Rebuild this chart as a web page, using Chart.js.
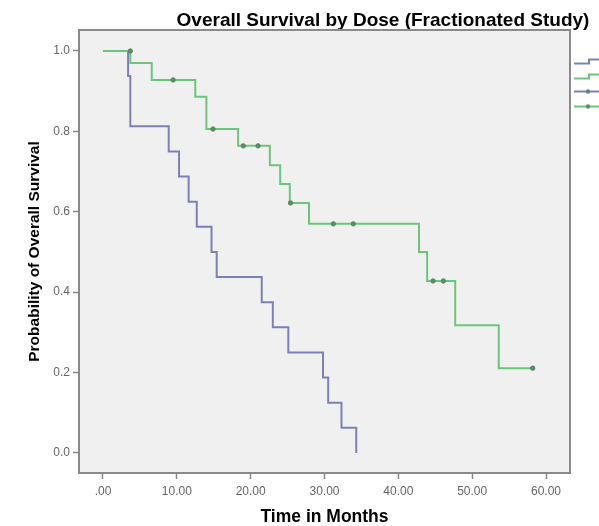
<!DOCTYPE html>
<html><head><meta charset="utf-8">
<script src="https://cdn.jsdelivr.net/npm/chart.js@4"></script>
<style>
html,body{margin:0;padding:0;overflow:hidden;background:#fff;width:599px;height:526px}
#wrap{position:absolute;left:0;top:0;width:766px;height:526px}
</style>
</head><body><div id="wrap"><canvas id="c" width="766" height="526"></canvas></div>
<script>
const titleText = "Overall Survival by Dose (Fractionated Study)";
const xTitle = "Time in Months";
const yTitle = "Probability of Overall Survival";
const seriesNames = ["1", "2", "1-censored", "2-censored"];
const xTicks = [0, 10, 20, 30, 40, 50, 60];
const yTicks = [0, 0.2, 0.4, 0.6, 0.8, 1.0];

// group 1 (blue) – event times and survival after each event
const blueTimes = [0, 3.4, 3.7, 8.9, 10.3, 11.6, 12.7, 14.7, 15.4, 21.5, 23.0, 25.1, 29.8, 30.5, 32.3, 34.3];
const blueSurv  = [1, 0.9375, 0.8125, 0.75, 0.6875, 0.625, 0.5625, 0.5, 0.4375, 0.375, 0.3125, 0.25, 0.1875, 0.125, 0.0625, 0];
// group 2 (green)
const greenTimes = [0, 3.7, 6.6, 12.5, 14.0, 18.3, 22.6, 24.0, 25.3, 27.9, 42.8, 43.9, 47.7, 53.6, 58.2];
const greenSurv  = [1, 0.97, 0.928, 0.886, 0.806, 0.764, 0.716, 0.669, 0.622, 0.570, 0.50, 0.428, 0.318, 0.211, 0.211];
// censored observations
const blueCensorTimes = [];
const blueCensorSurv  = [];
const greenCensorTimes = [3.7, 9.5, 14.9, 19.0, 21.0, 25.4, 31.2, 33.9, 44.7, 46.1, 58.2];
const greenCensorSurv  = [1, 0.928, 0.806, 0.764, 0.764, 0.622, 0.570, 0.570, 0.428, 0.428, 0.211];

const BLUE = "rgb(124,128,184)";
const GREEN = "rgb(108,198,122)";
const CENS = "rgb(92,138,102)";

const pts = (xs, ys) => xs.map((x, i) => ({x: x, y: ys[i]}));

function legendIcon(color, withDot, step) {
  const cv = document.createElement("canvas");
  cv.width = 34; cv.height = 10;
  const g = cv.getContext("2d");
  g.strokeStyle = color; g.lineWidth = 2;
  g.beginPath();
  if (step) { g.moveTo(0, 7); g.lineTo(15, 7); g.lineTo(15, 3); g.lineTo(34, 3); }
  else { g.moveTo(0, 5); g.lineTo(34, 5); }
  g.stroke();
  if (withDot) { g.fillStyle = CENS; g.beginPath(); g.arc(14, 5, 2.2, 0, Math.PI * 2); g.fill(); }
  return cv;
}
const icons = [legendIcon(BLUE, false, true), legendIcon(GREEN, false, true), legendIcon(BLUE, true, false), legendIcon(GREEN, true, false)];

const framePlugin = {
  id: "frame",
  afterLayout(chart) {
    // centre the main title across the whole (legend-inclusive) canvas, as SPSS does
    const t = chart.titleBlock;
    if (t) { t.left = 0; t.right = chart.width; t.width = chart.width; }
  },
  beforeDraw(chart) {
    const a = chart.chartArea, ctx = chart.ctx;
    ctx.save();
    ctx.fillStyle = "#f0f0f0";
    ctx.fillRect(a.left, a.top, a.right - a.left, a.bottom - a.top);
    ctx.restore();
  },
  afterDatasetsDraw(chart) {
    const a = chart.chartArea, ctx = chart.ctx;
    ctx.save();
    ctx.strokeStyle = "#8a8a8a"; ctx.lineWidth = 2;
    ctx.strokeRect(a.left, a.top, a.right - a.left, a.bottom - a.top);
    ctx.restore();
  }
};

const font = "'Liberation Sans', Arial, sans-serif";

const chart = new Chart(document.getElementById("c"), {
  type: "scatter",
  data: {
    datasets: [
      { label: seriesNames[0], data: pts(blueTimes, blueSurv), showLine: true, stepped: "before",
        borderColor: BLUE, backgroundColor: BLUE, borderWidth: 2, pointRadius: 0, order: 3 },
      { label: seriesNames[1], data: pts(greenTimes, greenSurv), showLine: true, stepped: "before",
        borderColor: GREEN, backgroundColor: GREEN, borderWidth: 2, pointRadius: 0, order: 2 },
      { label: seriesNames[2], data: pts(blueCensorTimes, blueCensorSurv), showLine: false,
        pointRadius: 2.2, pointBackgroundColor: CENS, pointBorderColor: CENS, order: 1 },
      { label: seriesNames[3], data: pts(greenCensorTimes, greenCensorSurv), showLine: false,
        pointRadius: 2.2, pointBackgroundColor: CENS, pointBorderColor: CENS, order: 0 }
    ]
  },
  options: {
    responsive: false,
    animation: false,
    layout: { padding: { left: 21, right: 10, top: 0, bottom: 0 } },
    plugins: {
      title: {
        display: true, text: titleText, color: "#000",
        font: { family: font, size: 19, weight: "bold", lineHeight: 1 },
        padding: { top: 11, bottom: 0 }
      },
      legend: {
        position: "right", align: "start",
        title: { display: true, text: " ", font: { size: 10, lineHeight: 1 }, padding: { top: 42, bottom: 0 } },
        labels: {
          usePointStyle: true, pointStyleWidth: 34,
          generateLabels: (ch) => ch.data.datasets.map((d, i) => ({
            text: d.label, pointStyle: icons[i], fillStyle: "transparent",
            strokeStyle: "transparent", lineWidth: 0, hidden: false, datasetIndex: i, fontColor: "#000"
          })),
          font: { family: font, size: 11 }, padding: 4, boxHeight: 10
        }
      },
      tooltip: { enabled: false }
    },
    scales: {
      x: {
        type: "linear", min: -3.25, max: 63.25,
        afterBuildTicks: (s) => { s.ticks = xTicks.map(v => ({value: v})); },
        afterFit: (s) => { s.height = 53; },
        ticks: { color: "#666", font: { family: font, size: 12 }, padding: 5,
          callback: (v) => v.toFixed(2).replace(/^0/, "") },
        grid: { drawOnChartArea: false, drawTicks: true, tickLength: 6, color: "#8a8a8a", tickWidth: 1.5 },
        border: { display: false },
        title: { display: true, text: xTitle, color: "#000", padding: 0,
          font: { family: font, size: 17.5, weight: "bold", lineHeight: 1 } }
      },
      y: {
        type: "linear", min: -0.0498, max: 1.0522,
        afterBuildTicks: (s) => { s.ticks = yTicks.map(v => ({value: v})); },
        afterFit: (s) => { s.width = 58; },
        ticks: { color: "#666", font: { family: font, size: 12 }, padding: 3,
          callback: (v) => v.toFixed(1) },
        grid: { drawOnChartArea: false, drawTicks: true, tickLength: 6, color: "#8a8a8a", tickWidth: 1.5 },
        border: { display: false },
        title: { display: true, text: yTitle, color: "#000",
          font: { family: font, size: 15.5, weight: "bold" } }
      }
    }
  },
  plugins: [framePlugin]
});

// align the plotting frame's right edge with the reference
const targetRight = 570;
const d = chart.chartArea.right - targetRight;
chart.options.layout.padding.right += d;
chart.update("none");
</script>
</body></html>
